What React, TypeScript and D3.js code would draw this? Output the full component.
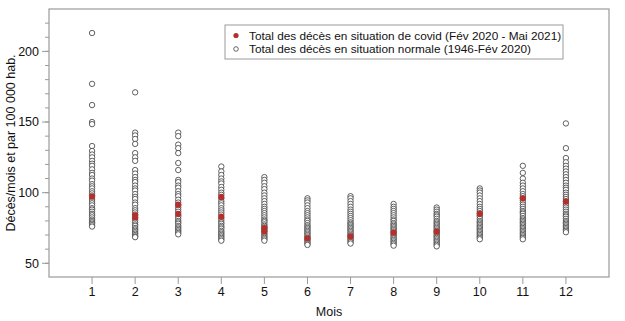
import React from "react";
import * as d3 from "d3";

const months = [1, 2, 3, 4, 5, 6, 7, 8, 9, 10, 11, 12];
const yMajorTicks = [50, 100, 150, 200];
const xLabel = "Mois";
const yLabel = "Décès/mois et par 100 000 hab.";
const legendCovid = "Total des décès en situation de covid (Fév 2020 - Mai 2021)";
const legendNormal = "Total des décès en situation normale (1946-Fév 2020)";

// Normal-situation monthly deaths per 100 000 (1946 - Feb 2020), read per month
const normal1 = [213, 177, 162, 150, 148.5, 133, 129.5, 127, 125, 122.5, 120.5, 119, 116.5, 114, 112.5, 110, 108.5, 106, 104.5, 103, 101, 99.5, 98, 95.5, 94, 92.5, 91, 89, 88, 86.5, 85, 84, 82.5, 81, 80, 79, 78, 77, 76];
const normal2 = [171, 142.5, 140.5, 138, 134.5, 128, 125, 122.5, 116, 113.5, 111, 109, 107.5, 105, 103, 101.5, 99, 97, 95.5, 93, 91.5, 89, 87.5, 86, 84.5, 82, 80.5, 79, 77.5, 76.5, 75, 74, 73, 72, 71, 70, 69, 68.5];
const normal3 = [142.5, 140, 134, 131.5, 128, 121, 116, 109, 107.5, 105, 103.5, 101, 99, 97.5, 95, 93, 91, 89.5, 88, 86.5, 84, 83, 81.5, 80, 79, 78, 76.5, 75.5, 74.5, 73.5, 72.5, 71.5, 70.5];
const normal4 = [118.5, 115, 112.5, 110, 108, 106.5, 104, 102, 100, 98.5, 96, 94, 92.5, 91, 89, 87.5, 86, 84.5, 82, 80.5, 79, 78, 76.5, 75.5, 74.5, 73, 72, 71, 70, 69, 68, 67, 66];
const normal5 = [111, 109, 107, 104.5, 102.5, 100, 98, 96, 94, 92, 90, 88.5, 87, 85.5, 84, 82.5, 81, 80, 79, 77.5, 76.5, 75.5, 74.5, 73.5, 72.5, 71, 70, 69, 68, 67, 66];
const normal6 = [96, 94.5, 93, 91, 89, 87, 85.5, 84, 82.5, 81, 80, 78.5, 77, 76, 75, 74, 73, 72, 71, 70, 69, 68, 67, 66, 65, 64, 63];
const normal7 = [97.5, 96, 94, 92, 90, 88, 86.5, 85, 83.5, 82, 80.5, 79, 78, 77, 76, 75, 74, 73, 72, 71, 70, 69, 68, 67, 66, 65, 64];
const normal8 = [92, 90, 88.5, 87, 85.5, 84, 82.5, 81, 80, 78.5, 77.5, 76.5, 75.5, 74.5, 73.5, 72.5, 71.5, 70.5, 69.5, 68.5, 67.5, 66.5, 65.5, 64.5, 63.5, 62.5];
const normal9 = [89.5, 88, 86.5, 85, 84, 83, 81.5, 80, 79, 78, 77, 76, 75, 74, 73, 72, 71, 70, 69, 68, 67, 66, 65, 64, 63, 62];
const normal10 = [103, 101.5, 100, 98, 96, 94, 92, 90, 88.5, 87, 85.5, 84, 83, 81.5, 80, 79, 78, 77, 76, 75, 74, 73, 72, 71, 70, 69, 68, 67];
const normal11 = [119, 114, 110, 107, 105, 103, 101, 99, 97.5, 96, 94.5, 93, 91.5, 90, 88.5, 87, 86, 85, 83.5, 82, 81, 80, 79, 78, 77, 76, 75, 74, 73, 72, 71, 70, 69, 68, 67];
const normal12 = [149, 131.5, 124.5, 121.5, 119, 117, 115, 113, 111, 109, 107, 105, 103.5, 102, 100, 98.5, 97, 95.5, 94, 92.5, 91, 89.5, 88, 86.5, 85, 84, 83, 81.5, 80, 79, 78, 77, 76, 75, 74, 73, 72];

const normalByMonth = [normal1, normal2, normal3, normal4, normal5, normal6, normal7, normal8, normal9, normal10, normal11, normal12];

// Covid-period months (Feb 2020 - May 2021)
const covidMonths = [1, 2, 2, 3, 3, 4, 4, 5, 5, 6, 7, 8, 9, 10, 11, 12];
const covidValues = [97.2, 84, 82.5, 91.5, 85, 97, 83, 75, 72.5, 67.7, 69, 71.7, 72.4, 85, 96, 93.7];

const W = 625;
const H = 321;
const margin = { top: 9, right: 16, bottom: 44, left: 49 };
const FONT = "'Liberation Sans', Arial, Helvetica, sans-serif";
const GRAY = "#9a9a9a";
const RED = "#b3302c";

export default function App() {
  const x = d3.scaleLinear().domain([0, 13]).range([margin.left, W - margin.right]);
  const y = d3.scaleLinear().domain([40.3, 230]).range([H - margin.bottom, margin.top]);
  const minorTicks = d3.range(50, 230, 10);

  const normalPts: { m: number; v: number }[] = [];
  normalByMonth.forEach((arr, i) => arr.forEach((v) => normalPts.push({ m: months[i], v })));

  const x0 = margin.left;
  const x1 = W - margin.right;
  const y0 = H - margin.bottom;
  const y1 = margin.top;

  return (
    <svg
      width={W}
      height={H}
      style={{ position: "absolute", left: 0, top: 0, background: "#fff" }}
      fontFamily={FONT}
    >
      <rect x={0} y={0} width={W} height={H} fill="#fff" />
      {/* frame */}
      <rect x={x0} y={y1} width={x1 - x0} height={y0 - y1} fill="none" stroke={GRAY} strokeWidth={1.2} />
      {/* y minor ticks */}
      {minorTicks.map((t) => (
        <line key={"mn" + t} x1={x0 - 4} x2={x0} y1={y(t)} y2={y(t)} stroke={GRAY} strokeWidth={1} />
      ))}
      {yMajorTicks.map((t) => (
        <g key={"mj" + t}>
          <line x1={x0 - 7} x2={x0} y1={y(t)} y2={y(t)} stroke={GRAY} strokeWidth={1} />
          <text x={x0 - 10} y={y(t)} dy="0.35em" textAnchor="end" fontSize={12.5} fill="#111">
            {t}
          </text>
        </g>
      ))}
      {months.map((m) => (
        <g key={"xt" + m}>
          <line x1={x(m)} x2={x(m)} y1={y0} y2={y0 + 7} stroke={GRAY} strokeWidth={1} />
          <text x={x(m)} y={y0 + 19} textAnchor="middle" fontSize={12.5} fill="#111">
            {m}
          </text>
        </g>
      ))}
      <text x={(x0 + x1) / 2} y={H - 5} textAnchor="middle" fontSize={12.5} fill="#111">
        {xLabel}
      </text>
      <text
        transform={`translate(15, ${(y0 + y1) / 2}) rotate(-90)`}
        textAnchor="middle"
        fontSize={12.5}
        fill="#111"
      >
        {yLabel}
      </text>
      {/* normal points */}
      {normalPts.map((p, i) => (
        <circle key={"n" + i} cx={x(p.m)} cy={y(p.v)} r={2.7} fill="#fff" stroke="#3a3a3a" strokeWidth={0.8} />
      ))}
      {/* covid points */}
      {covidValues.map((v, i) => (
        <circle key={"c" + i} cx={x(covidMonths[i])} cy={y(v)} r={3.1} fill={RED} />
      ))}
      {/* legend */}
      <rect x={225} y={25} width={338} height={34} fill="#fff" stroke={GRAY} strokeWidth={1} />
      <circle cx={236} cy={35.5} r={2.6} fill={RED} />
      <text x={249} y={35.5} dy="0.35em" fontSize={11.8} fill="#111">
        {legendCovid}
      </text>
      <circle cx={236} cy={49} r={2.3} fill="#fff" stroke="#444" strokeWidth={0.8} />
      <text x={249} y={49} dy="0.35em" fontSize={11.8} fill="#111">
        {legendNormal}
      </text>
    </svg>
  );
}
